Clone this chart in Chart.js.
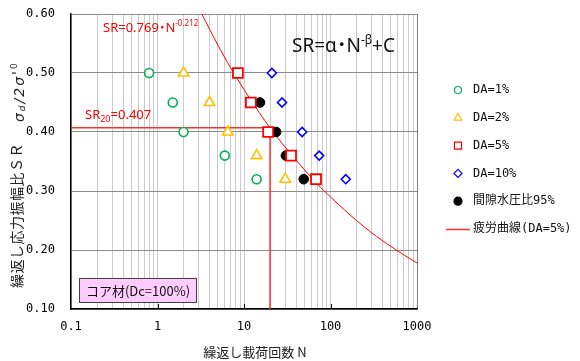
<!DOCTYPE html>
<html>
<head>
<meta charset="utf-8">
<script src="https://cdn.jsdelivr.net/npm/chart.js@4"></script>
<style>
  html, body { margin: 0; padding: 0; background: #fff; }
  #wrap { width: 580px; height: 361px; position: relative; }
</style>
</head>
<body>
<div id="wrap"><canvas id="chartFatigue"></canvas></div>
<script>
/* 繰返し載荷回数 N vs 繰返し応力振幅比 SR — コア材(Dc=100%) */

const da1N    = [0.8, 1.5, 2.0, 6.0, 14];
const da1SR   = [0.50, 0.45, 0.40, 0.36, 0.32];
const da2N    = [2.0, 4.0, 6.5, 14, 30];
const da2SR   = [0.50, 0.45, 0.40, 0.36, 0.32];
const da5N    = [8.5, 12, 19, 35, 68];
const da5SR   = [0.50, 0.45, 0.40, 0.36, 0.32];
const da10N   = [21, 27.5, 47, 74, 150];
const da10SR  = [0.50, 0.45, 0.40, 0.36, 0.32];
const pore95N  = [15.3, 23.5, 30.5, 49];
const pore95SR = [0.45, 0.40, 0.36, 0.32];

// 疲労曲線 (DA=5%)
const curveN  = [3.25, 5, 7, 10, 15, 20, 30, 50, 70, 100, 150, 200, 300, 500, 700, 1000];
const curveSR = [0.600, 0.547, 0.509, 0.472, 0.433, 0.407, 0.374, 0.336, 0.312, 0.290, 0.266, 0.250, 0.229, 0.206, 0.192, 0.178];

// SR20 guide lines
const sr20N  = [0.1, 20, 20];
const sr20SR = [0.407, 0.407, 0.1];

const xDecades    = [0.1, 1, 10, 100, 1000];
const xTickLabels = ['0.1', '1', '10', '100', '1000'];
const yTicks      = [0.1, 0.2, 0.3, 0.4, 0.5, 0.6];

const legendLabels = ['DA=1%', 'DA=2%', 'DA=5%', 'DA=10%', '間隙水圧比95%', '疲労曲線(DA=5%)'];

const pts = (xs, ys) => xs.map((x, i) => ({ x, y: ys[i] }));

// minor log ticks 1..9 per decade
const xTickValues = [];
for (let e = -1; e <= 2; e++) {
  for (let m = 1; m <= 9; m++) xTickValues.push(Number((m * Math.pow(10, e)).toPrecision(3)));
}
xTickValues.push(1000);

const isDecade = v => xDecades.findIndex(d => Math.abs(v - d) / d < 1e-6);

Chart.defaults.color = '#000';
Chart.defaults.font.family = "'DejaVu Sans Mono', 'Noto Sans CJK JP', monospace";
Chart.defaults.font.size = 12;

function drawRuns(ctx, x, y, runs) {
  let cx = x;
  runs.forEach(r => {
    ctx.font = r.font;
    ctx.fillText(r.text, cx, y + (r.dy || 0));
    cx += ctx.measureText(r.text).width + (r.gap || 0);
  });
}

const overlay = {
  id: 'overlay',
  afterDraw(chart) {
    const { ctx, chartArea: a } = chart;
    const xs = chart.scales.x;
    ctx.save();

    // decade tick marks inside bottom axis
    ctx.strokeStyle = '#000';
    ctx.lineWidth = 1;
    [1, 10, 100].forEach(d => {
      const px = Math.round(xs.getPixelForValue(d)) + 0.5;
      ctx.beginPath();
      ctx.moveTo(px, a.bottom);
      ctx.lineTo(px, a.bottom - 5);
      ctx.stroke();
    });

    // y axis title (rotated)
    ctx.save();
    ctx.translate(17, 288);
    ctx.rotate(-Math.PI / 2);
    ctx.fillStyle = '#222';
    ctx.textBaseline = 'middle';
    ctx.letterSpacing = '0.5px';
    ctx.font = "14px 'Noto Sans CJK JP'";
    ctx.fillText('繰返し応力振幅比ＳＲ', 0, 0);
    ctx.letterSpacing = '2px';
    drawRuns(ctx, 166, 3, [
      { text: 'σ', font: "italic 14px 'DejaVu Sans'" },
      { text: 'd', font: "italic 9px 'DejaVu Sans'", dy: 3 },
      { text: '/2σ', font: "italic 14px 'DejaVu Sans'" },
      { text: '\'', font: "14px 'DejaVu Sans'", dy: -2 },
      { text: '0', font: "9px 'DejaVu Sans'", dy: -5 },
    ]);
    ctx.restore();
    ctx.letterSpacing = '0px';

    // x axis title
    ctx.fillStyle = '#222';
    ctx.textAlign = 'center';
    ctx.textBaseline = 'middle';
    ctx.font = "13px 'Noto Sans CJK JP'";
    ctx.fillText('繰返し載荷回数 N', 255, 352);

    // equations
    ctx.textAlign = 'left';
    ctx.textBaseline = 'alphabetic';
    ctx.fillStyle = '#ff0000';
    drawRuns(ctx, 103, 32, [
      { text: 'SR=0.769', font: "13px 'Noto Sans'" },
      { text: '･', font: "bold 13px 'Noto Sans CJK JP'" },
      { text: 'N', font: "13px 'Noto Sans'" },
      { text: '-0.212', font: "8px 'Noto Sans'", dy: -6 },
    ]);
    drawRuns(ctx, 85, 119, [
      { text: 'SR', font: "13px 'Noto Sans'" },
      { text: '20', font: "9px 'Noto Sans'", dy: 3 },
      { text: '=0.407', font: "13px 'Noto Sans'" },
    ]);
    ctx.fillStyle = '#111';
    drawRuns(ctx, 292, 52, [
      { text: 'SR=α', font: "19px 'Noto Sans'" },
      { text: '･', font: "bold 19px 'Noto Sans CJK JP'" },
      { text: 'N', font: "19px 'Noto Sans'" },
      { text: '-β', font: "12px 'Noto Sans'", dy: -8 },
      { text: '+C', font: "19px 'Noto Sans'" },
    ]);

    // material label box
    ctx.fillStyle = '#ffccff';
    ctx.fillRect(79.5, 278.5, 117, 24);
    ctx.strokeStyle = '#404040';
    ctx.lineWidth = 1;
    ctx.strokeRect(79.5, 278.5, 117, 24);
    ctx.fillStyle = '#111';
    ctx.textAlign = 'center';
    ctx.textBaseline = 'middle';
    ctx.font = "13px 'Noto Sans CJK JP'";
    ctx.fillText('コア材(Dc=100%)', 138, 291);

    // legend
    const lx = 458, ly0 = 90, step = 27.8;
    const sizes = [3.5, 4.5, 5, 4, 4];
    ctx.textAlign = 'left';
    ctx.font = "12px 'DejaVu Sans Mono', 'Noto Sans CJK JP'";
    legendLabels.forEach((lab, i) => {
      const y = ly0 + i * step;
      const ds = chart.data.datasets[i];
      if (i < 5) {
        ctx.fillStyle = ds.backgroundColor;
        ctx.strokeStyle = ds.borderColor;
        ctx.lineWidth = 1.2;
        Chart.helpers.drawPoint(ctx, { pointStyle: ds.pointStyle, radius: sizes[i], rotation: 0, borderWidth: 1.2 }, lx, y);
      } else {
        ctx.strokeStyle = '#ff3030';
        ctx.lineWidth = 1.5;
        ctx.beginPath();
        ctx.moveTo(446, Math.round(y) + 0.5);
        ctx.lineTo(470, Math.round(y) + 0.5);
        ctx.stroke();
      }
      ctx.fillStyle = '#111';
      ctx.fillText(lab, 473, y);
    });

    ctx.restore();
  },
};

new Chart(document.getElementById('chartFatigue'), {
  type: 'scatter',
  data: {
    datasets: [
      { label: 'DA=1%', data: pts(da1N, da1SR), pointStyle: 'circle', pointRadius: 4.5,
        borderColor: '#00b050', backgroundColor: '#fff', pointBorderWidth: 1.6, order: 4 },
      { label: 'DA=2%', data: pts(da2N, da2SR), pointStyle: 'triangle', pointRadius: 6,
        borderColor: '#ffc000', backgroundColor: '#fff', pointBorderWidth: 1.6, order: 3 },
      { label: 'DA=5%', data: pts(da5N, da5SR), pointStyle: 'rect', pointRadius: 7,
        borderColor: '#ff0000', backgroundColor: '#fff', pointBorderWidth: 1.8, order: 1 },
      { label: 'DA=10%', data: pts(da10N, da10SR), pointStyle: 'rectRot', pointRadius: 4.5,
        borderColor: '#0000ff', backgroundColor: '#fff', pointBorderWidth: 1.6, order: 5 },
      { label: '間隙水圧比95%', data: pts(pore95N, pore95SR), pointStyle: 'circle', pointRadius: 4.8,
        borderColor: '#000', backgroundColor: '#000', pointBorderWidth: 1, order: 2 },
      { label: '疲労曲線(DA=5%)', data: pts(curveN, curveSR), showLine: true, pointRadius: 0,
        borderColor: '#ff0000', borderWidth: 1, tension: 0.3, order: 10 },
      { label: 'SR20', data: pts(sr20N, sr20SR), showLine: true, pointRadius: 0,
        borderColor: '#ff3030', borderWidth: 1.5, tension: 0, order: 11 },
    ],
  },
  options: {
    responsive: true,
    maintainAspectRatio: false,
    animation: false,
    devicePixelRatio: 1,
    layout: { autoPadding: false, padding: { left: 0, top: 14, right: 163, bottom: 0 } },
    plugins: { legend: { display: false }, tooltip: { enabled: false } },
    scales: {
      x: {
        type: 'logarithmic',
        min: 0.1,
        max: 1000,
        afterBuildTicks: s => { s.ticks = xTickValues.map(v => ({ value: v })); },
        afterFit: s => { s.height = 52; },
        ticks: {
          autoSkip: false,
          maxRotation: 0,
          padding: 3,
          callback: v => { const i = isDecade(v); return i >= 0 ? xTickLabels[i] : ''; },
        },
        grid: {
          drawTicks: true,
          tickLength: 8,
          tickColor: 'rgba(0,0,0,0)',
          color: c => (c.tick && c.tick.value === 1000 ? '#808080' : '#cccccc'),
        },
        border: { color: '#000', width: 1.5 },
      },
      y: {
        type: 'linear',
        min: 0.1,
        max: 0.6,
        afterBuildTicks: s => { s.ticks = yTicks.map(v => ({ value: v })); },
        afterFit: s => { s.width = 71; },
        ticks: { padding: 3, callback: v => Number(v).toFixed(2) },
        grid: { drawTicks: true, tickLength: 13, tickColor: 'rgba(0,0,0,0)', color: '#8c8c8c' },
        border: { color: '#000', width: 1.5 },
      },
    },
  },
  plugins: [overlay],
});
</script>
</body>
</html>
